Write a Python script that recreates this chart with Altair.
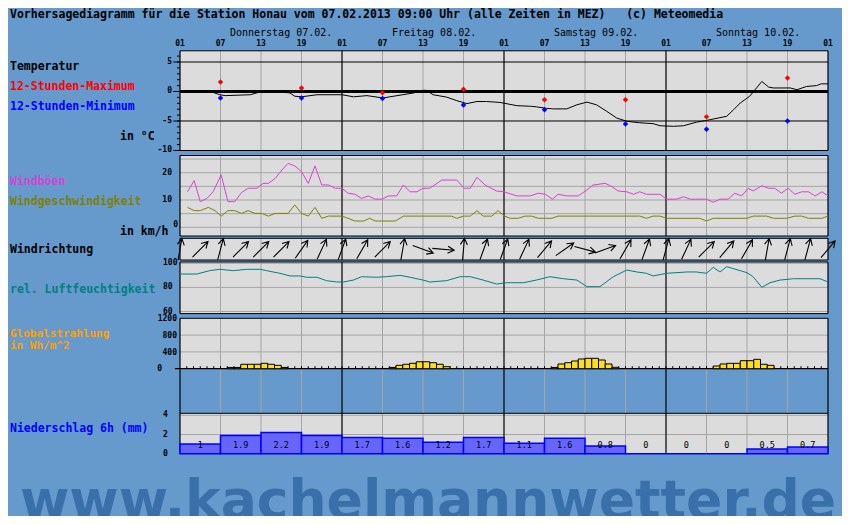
import altair as alt
import pandas as pd

# ---------------- data ----------------
TITLE = "Vorhersagediagramm für die Station Honau vom 07.02.2013 09:00 Uhr (alle Zeiten in MEZ)\u00a0\u00a0\u00a0(c) Meteomedia"
DAY_LABELS = ["Donnerstag 07.02.", "Freitag 08.02.", "Samstag 09.02.", "Sonntag 10.02."]
DAY_START_H = [0, 24, 48, 72]
HOUR_TICK_H = [0, 6, 12, 18, 24, 30, 36, 42, 48, 54, 60, 66, 72, 78, 84, 90, 96]
HOUR_TICK_LABELS = ["01", "07", "13", "19"] * 4 + ["01"]

TEMP_H = [3.4, 4.9, 5.9, 6.7, 10.4, 12.1, 14.3, 16.3, 17.0, 18.0, 20.3, 24.0, 25.7, 27.7, 30.1, 31.1,
          34.6, 36.0, 36.5, 37.5, 39.5, 41.0, 42.5, 44.0, 45.4, 47.4, 49.9, 51.9, 52.8, 54.3, 55.3,
          57.3, 58.8, 60.3, 61.7, 63.2, 64.7, 66.2, 68.1, 70.1, 71.1, 73.1, 74.6, 76.5, 78.0, 81.0,
          82.0, 83.0, 84.4, 86.2, 87.2, 87.9, 90.4, 91.4, 92.8, 94.3, 95.0, 96.0]
TEMP = [0.0, -0.15, -0.55, -0.7, -0.55, 0.0, 0.0, -0.25, -0.8, -0.9, -0.55, -0.55, -0.9, -0.7, -1.1, -0.9,
        -0.25, 0.2, 0.2, -0.55, -0.95, -1.55, -2.05, -1.7, -1.7, -1.85, -2.4, -2.5, -2.6, -2.85, -2.95,
        -2.95, -2.25, -1.8, -2.25, -3.35, -4.5, -5.05, -5.3, -5.45, -5.8, -5.9, -5.8, -5.2, -4.9, -4.2,
        -3.1, -1.95, -0.8, 1.7, 0.75, 0.6, 0.6, 0.3, 0.85, 1.0, 1.3, 1.3]
EXT_H = [6, 18, 30, 42, 54, 66, 78, 90]
TMAX = [1.6, 0.6, -0.2, 0.4, -1.4, -1.4, -4.3, 2.3]
TMIN = [-1.1, -1.1, -1.2, -2.3, -3.1, -5.5, -6.4, -5.0]
TEMP_TICKS = [5, 0, -5, -10]

GUST_H = [1.1, 2.1, 3.0, 4.0, 4.9, 6.1, 7.1, 8.1, 9.1, 10.1, 11.4, 12.3, 13.1, 14.1, 15.1, 16.0, 17.0,
          18.0, 19.0, 20.0, 21.0, 22.0, 23.0, 24.0, 24.9, 25.9, 26.9, 27.9, 28.9, 29.9, 30.9, 32.1,
          33.1, 34.1, 35.1, 36.0, 37.0, 38.8, 41.0, 42.1, 43.0, 44.0, 45.2, 46.9, 48.0, 49.9, 51.9,
          53.1, 54.1, 55.2, 56.0, 57.3, 59.0, 60.3, 61.2, 63.0, 64.0, 64.9, 66.2, 67.2, 68.1, 69.1,
          71.1, 72.1, 73.6, 74.6, 75.6, 78.0, 79.0, 80.0, 81.2, 82.2, 83.2, 84.2, 84.9, 86.2, 87.2,
          88.1, 89.1, 90.1, 91.1, 92.1, 93.1, 94.1, 95.1, 96.0]
GUST = [13.0, 17.1, 9.4, 10.6, 13.0, 19.2, 9.4, 9.4, 12.7, 14.3, 14.3, 16.1, 16.1, 17.9, 21.0, 23.4, 22.5,
        20.4, 16.1, 22.5, 15.5, 15.5, 14.3, 14.3, 12.5, 12.1, 10.6, 11.5, 10.3, 10.3, 11.5, 11.5,
        15.5, 13.0, 13.0, 14.3, 14.3, 17.3, 17.3, 14.3, 14.3, 18.3, 15.5, 13.3, 13.0, 11.5, 11.5,
        12.5, 12.1, 10.3, 12.1, 11.5, 11.5, 13.7, 15.5, 16.1, 14.9, 13.3, 13.0, 12.1, 13.0, 12.1,
        12.1, 10.3, 10.3, 11.2, 10.3, 10.3, 9.2, 10.3, 10.3, 12.5, 11.5, 14.3, 13.3, 15.2, 14.3,
        14.3, 12.5, 14.3, 12.1, 13.0, 13.0, 11.5, 13.0, 11.5]
SPEED_H = [1.1, 2.1, 3.0, 4.2, 5.2, 6.1, 7.1, 8.1, 9.1, 10.1, 11.1, 12.1, 13.1, 14.1, 16.0, 17.0, 18.0,
           19.0, 20.0, 21.0, 22.0, 24.0, 24.9, 25.9, 27.2, 28.1, 28.9, 31.9, 33.1, 40.2, 41.0, 42.0,
           43.0, 44.0, 44.9, 46.2, 47.1, 48.1, 48.9, 50.1, 51.1, 52.1, 53.1, 55.1, 56.0, 68.1, 69.1,
           70.1, 71.1, 72.1, 77.0, 78.0, 79.0, 84.0, 84.9, 86.9, 87.9, 89.9, 91.1, 92.1, 93.1, 95.1, 96.0]
SPEED = [7.3, 6.1, 6.1, 7.3, 6.1, 4.1, 6.1, 6.1, 5.1, 6.1, 5.1, 5.1, 4.1, 5.1, 5.1, 8.2, 5.1,
         4.1, 7.3, 3.3, 4.1, 4.1, 3.3, 2.3, 2.3, 3.3, 2.3, 2.3, 4.1, 4.1, 3.3, 4.1,
         4.1, 6.1, 4.1, 4.1, 6.1, 4.1, 3.3, 3.3, 4.1, 4.1, 3.3, 3.3, 4.1, 4.1, 3.3,
         4.1, 4.1, 3.3, 3.3, 2.3, 3.3, 3.3, 4.1, 4.1, 3.3, 3.3, 4.1, 4.1, 3.3, 3.3, 4.1]
WIND_TICKS = [20, 10]

DIR_H = list(range(0, 97, 3))
DIR_DEG = [10, 45, 15, 45, 45, 45, 35, 25, 20, 30, 45, 10, 110, 95, 5, 20, 20, 25, 40, 55, 105, 70,
           30, 20, 15, 25, 45, 40, 30, 10, 15, 15, 40]

HUM_H = [0, 2.5, 4.4, 5.9, 7.9, 9.9, 11.9, 12.8, 14.8, 16.3, 17.8, 18.8, 20.3, 21.7, 23.2, 24.2, 25.7,
         26.9, 29.1, 30.6, 32.6, 34.1, 36.0, 37.0, 39.5, 41.5, 43.0, 44.9, 46.9, 48.4, 50.9, 52.8,
         54.8, 56.8, 58.8, 60.3, 62.2, 64.2, 66.2, 67.7, 69.1, 70.1, 72.1, 75.1, 76.5, 78.0, 79.0,
         80.0, 81.0, 83.0, 84.0, 84.9, 86.2, 87.4, 88.9, 90.9, 94.8, 96.0]
HUM = [91.1, 91.1, 93.9, 95.0, 93.9, 95.0, 95.0, 93.9, 91.7, 89.5, 89.5, 88.4, 88.4, 85.6, 84.5, 84.5, 86.1,
       88.9, 88.4, 88.9, 90.0, 88.4, 86.1, 84.5, 85.6, 88.9, 88.9, 86.1, 82.8, 83.9, 83.9, 86.1,
       88.9, 87.2, 86.1, 80.6, 80.6, 88.9, 94.4, 92.8, 91.7, 89.5, 91.7, 92.8, 92.8, 91.7, 96.7,
       92.8, 97.2, 93.9, 92.2, 88.9, 80.1, 83.9, 86.1, 87.2, 87.2, 84.5]
HUM_TICKS = [100, 80, 60]

RAD_H = [7, 8, 9, 10, 11, 12, 13, 14, 15,
         31, 32, 33, 34, 35, 36, 37, 38, 39,
         55, 56, 57, 58, 59, 60, 61, 62, 63, 64,
         79, 80, 81, 82, 83, 84, 85, 86, 87]
RAD = [30, 30, 105, 105, 105, 128, 105, 80, 30,
       30, 80, 105, 128, 165, 165, 143, 105, 48,
       30, 112, 143, 183, 231, 247, 247, 207, 112, 33,
       64, 112, 128, 128, 191, 191, 223, 105, 80]
RAD_TICKS = [1200, 800, 400]

PREC_H = list(range(0, 96, 6))
PREC = [1, 1.9, 2.2, 1.9, 1.7, 1.6, 1.2, 1.7, 1.1, 1.6, 0.8, 0, 0, 0, 0.5, 0.7]
PREC_TICKS = [4, 2, 0]

# ---------------- style ----------------
BG = "#6699CC"
PANEL = "#DCDCDC"
GRID = "#A5A5A5"
MONO = "DejaVu Sans Mono"
W = 834
PX_H = 6.75
XMIN = -172 / PX_H
XMAX = (W - 172) / PX_H
XS = alt.Scale(domain=[XMIN, XMAX], nice=False, zero=False)
GRAY_H = [h for h in HOUR_TICK_H if h % 24 != 0]
BLACK_H = [h for h in HOUR_TICK_H if h % 24 == 0]


def ys(lo, hi):
    return alt.Scale(domain=[lo, hi], nice=False, zero=False)


def xq(f):
    return alt.X(f, type="quantitative", scale=XS, axis=None)


def yq(f, sc):
    return alt.Y(f, type="quantitative", scale=sc, axis=None)


def hlines(sc, vals, color, a=0, b=96, width=1):
    df = pd.DataFrame({"v": vals, "a": [a] * len(vals), "b": [b] * len(vals)})
    return alt.Chart(df).mark_rule(color=color, strokeWidth=width).encode(
        y=yq("v", sc), x=xq("a"), x2="b")


def vlines(sc, hs, lo, hi, color, width=1):
    df = pd.DataFrame({"h": hs, "lo": [lo] * len(hs), "hi": [hi] * len(hs)})
    return alt.Chart(df).mark_rule(color=color, strokeWidth=width).encode(
        x=xq("h"), y=yq("lo", sc), y2="hi")


def rect(sc, lo, hi, color=PANEL):
    df = pd.DataFrame({"a": [0], "b": [96], "lo": [lo], "hi": [hi]})
    return alt.Chart(df).mark_rect(color=color).encode(
        x=xq("a"), x2="b", y=yq("lo", sc), y2="hi")


def label(text, x, y, color="black", size=11.5, bold=True, align="left", font=MONO,
          clip=False, baseline="middle"):
    df = pd.DataFrame({"t": [text]})
    return alt.Chart(df).mark_text(
        align=align, baseline=baseline, font=font, fontSize=size,
        fontWeight="bold" if bold else "normal", color=color, clip=clip
    ).encode(text="t:N", x=alt.value(x), y=alt.value(y))


def ticklabels(sc, vals, x, align="right", dy=0):
    df = pd.DataFrame({"v": vals, "t": [f"{v:g}" for v in vals]})
    return alt.Chart(df).mark_text(
        align=align, baseline="middle", font=MONO, fontSize=8, fontWeight="bold",
        color="black", dy=dy
    ).encode(y=yq("v", sc), x=alt.value(x), text="t:N")


def line(sc, hs, vs, color, width=1):
    df = pd.DataFrame({"h": hs, "v": vs})
    return alt.Chart(df).mark_line(color=color, strokeWidth=width).encode(
        x=xq("h"), y=yq("v", sc))


# ---------------- header ----------------
hdr_days = alt.Chart(pd.DataFrame({"h": [d + 7.4 for d in DAY_START_H], "t": DAY_LABELS})).mark_text(
    align="left", baseline="middle", font=MONO, fontSize=10, color="black"
).encode(x=xq("h"), y=alt.value(25), text="t:N")
hdr_hours = alt.Chart(pd.DataFrame({"h": HOUR_TICK_H, "t": HOUR_TICK_LABELS})).mark_text(
    align="center", baseline="middle", font=MONO, fontSize=8, fontWeight="bold", color="black"
).encode(x=xq("h"), y=alt.value(36), text="t:N")
header = alt.layer(
    label(TITLE, 2, 0.5, baseline="top"), hdr_days, hdr_hours
).properties(width=W, height=42)

# ---------------- temperature ----------------
sc_t = ys(-10.424, 7.034)
t_lo, t_hi = -10, 6.9
temp = alt.layer(
    rect(sc_t, t_lo, t_hi),
    vlines(sc_t, GRAY_H, t_lo, t_hi, GRID),
    hlines(sc_t, [5, -5, t_hi, t_lo], "black"),
    hlines(sc_t, [0], "black", width=3),
    vlines(sc_t, BLACK_H, t_lo, t_hi, "black", width=1.2),
    hlines(sc_t, list(range(-10, 7)), "black", a=-0.45, b=0),
    hlines(sc_t, TEMP_TICKS, "black", a=-1.0, b=0),
    ticklabels(sc_t, TEMP_TICKS, 164),
    line(sc_t, TEMP_H, TEMP, "black"),
    alt.Chart(pd.DataFrame({"h": EXT_H, "v": TMAX})).mark_point(
        shape="diamond", filled=True, size=30, color="#FF0000", opacity=1).encode(x=xq("h"), y=yq("v", sc_t)),
    alt.Chart(pd.DataFrame({"h": EXT_H, "v": TMIN})).mark_point(
        shape="diamond", filled=True, size=30, color="#0000FF", opacity=1).encode(x=xq("h"), y=yq("v", sc_t)),
    label("Temperatur", 2, 17),
    label("12-Stunden-Maximum", 2, 37, color="#FF0000"),
    label("12-Stunden-Minimum", 2, 57, color="#0000FF"),
    label("in °C", 112, 87),
).properties(width=W, height=103)

# ---------------- wind ----------------
sc_w = ys(-3.553, 27.216)
w_lo, w_hi = -3.19, 26.3
wind = alt.layer(
    rect(sc_w, w_lo, w_hi),
    hlines(sc_w, [0, 5, 10, 15, 20, 25], GRID),
    vlines(sc_w, GRAY_H, w_lo, w_hi, GRID),
    hlines(sc_w, [w_lo, w_hi], "black"),
    vlines(sc_w, BLACK_H, w_lo, w_hi, "black", width=1.2),
    ticklabels(sc_w, WIND_TICKS, 164),
    ticklabels(sc_w, [0], 170, dy=-2),
    line(sc_w, GUST_H, GUST, "#D444D4"),
    line(sc_w, SPEED_H, SPEED, "#808000"),
    label("Windböen", 2, 29, color="#D444D4"),
    label("Windgeschwindigkeit", 2, 49, color="#808000"),
    label("in km/h", 112, 79),
).properties(width=W, height=84)

# ---------------- wind direction ----------------
sc_d = ys(0, 24)
d_lo, d_hi = 1.0, 22.7
ARROW = "M0,1L0,-1M-0.32,-0.42L0,-1L0.32,-0.42"
wdir = alt.layer(
    rect(sc_d, d_lo, d_hi),
    vlines(sc_d, GRAY_H, d_lo, d_hi, GRID),
    hlines(sc_d, [d_lo, d_hi], "black"),
    vlines(sc_d, BLACK_H, d_lo, d_hi, "black", width=1.2),
    alt.Chart(pd.DataFrame({"h": DIR_H, "deg": DIR_DEG, "v": [11.7] * len(DIR_H)})).mark_point(
        shape=ARROW, filled=False, size=480, color="black", strokeWidth=1.1, opacity=1
    ).encode(x=xq("h"), y=yq("v", sc_d), angle=alt.Angle("deg:Q", scale=None)),
    label("Windrichtung", 2, 13),
).properties(width=W, height=24)

# ---------------- humidity ----------------
sc_h = ys(56.27, 101.91)
h_lo, h_hi = 58.26, 101.08
hum = alt.layer(
    rect(sc_h, h_lo, h_hi),
    hlines(sc_h, HUM_TICKS, GRID),
    vlines(sc_h, GRAY_H, h_lo, h_hi, GRID),
    hlines(sc_h, [h_lo, h_hi], "black"),
    vlines(sc_h, BLACK_H, h_lo, h_hi, "black", width=1.2),
    ticklabels(sc_h, HUM_TICKS, 155, align="left"),
    line(sc_h, HUM_H, HUM, "#008080"),
    label("rel. Luftfeuchtigkeit", 2, 29, color="#008080"),
).properties(width=W, height=55)

# ---------------- radiation ----------------
sc_r = ys(-1031, 1254.8)
rad_df = pd.DataFrame({"h": RAD_H, "h2": [h + 1 for h in RAD_H], "v": RAD, "z": [0] * len(RAD_H)})
rad = alt.layer(
    rect(sc_r, 0, 1200),
    hlines(sc_r, [400, 800], GRID),
    vlines(sc_r, GRAY_H, -1031, 1200, GRID),
    hlines(sc_r, [1200], "black"),
    vlines(sc_r, BLACK_H, -1031, 1200, "black", width=1.2),
    vlines(sc_r, list(range(1, 96)), 0, 60, "black"),
    hlines(sc_r, [0], "black", a=-0.75, b=96, width=1.3),
    alt.Chart(rad_df).mark_rect(fill="#FFDD22", stroke="black", strokeWidth=1).encode(
        x=xq("h"), x2="h2", y=yq("z", sc_r), y2="v"),
    ticklabels(sc_r, RAD_TICKS, 169, dy=1),
    ticklabels(sc_r, [0], 154),
    label("Globalstrahlung", 2, 18, color="#FFA000", size=11),
    label("in Wh/m^2", 2, 29.5, color="#FFA000", size=11),
).properties(width=W, height=96)

# ---------------- precipitation ----------------
sc_p = ys(-6.49, 4.344)
p_hi = 4.208
prec_df = pd.DataFrame({"h": PREC_H, "h2": [h + 6 for h in PREC_H], "v": PREC, "z": [0] * len(PREC),
                        "c": [h + 3 for h in PREC_H], "t": [f"{v:g}" for v in PREC],
                        "ly": [0.9] * len(PREC)})
prec = alt.layer(
    rect(sc_p, 0, p_hi),
    hlines(sc_p, [2, 4], GRID),
    vlines(sc_p, GRAY_H, 0, 4.344, GRID),
    hlines(sc_p, [p_hi], "black"),
    vlines(sc_p, BLACK_H, 0, 4.344, "black", width=1.2),
    alt.Chart(prec_df).mark_rect(fill="#6666FF", stroke="#0000FF", strokeWidth=1.5).encode(
        x=xq("h"), x2="h2", y=yq("z", sc_p), y2="v"),
    alt.Chart(prec_df).mark_text(font=MONO, fontSize=8.5, color="black", baseline="middle").encode(
        x=xq("c"), y=yq("ly", sc_p), text="t:N"),
    ticklabels(sc_p, PREC_TICKS, 155, align="left"),
    label("Niederschlag 6h (mm)", 2, 17, color="#0000FF"),
    alt.Chart(pd.DataFrame({"t": ["www.kachelmannwetter.de"]})).mark_text(
        align="center", baseline="alphabetic", font="DejaVu Sans", fontSize=53.5, fontWeight="bold",
        color="#3A70AA", clip=True
    ).encode(text="t:N", x=alt.value(420), y=alt.value(106)),
).properties(width=W, height=104)

chart = alt.vconcat(header, temp, wind, wdir, hum, rad, prec, spacing=0, bounds="flush").properties(
    background=BG, padding=0
).configure_view(stroke=None)

chart.save("out.html", embed_options={"renderer": "svg", "actions": False})
